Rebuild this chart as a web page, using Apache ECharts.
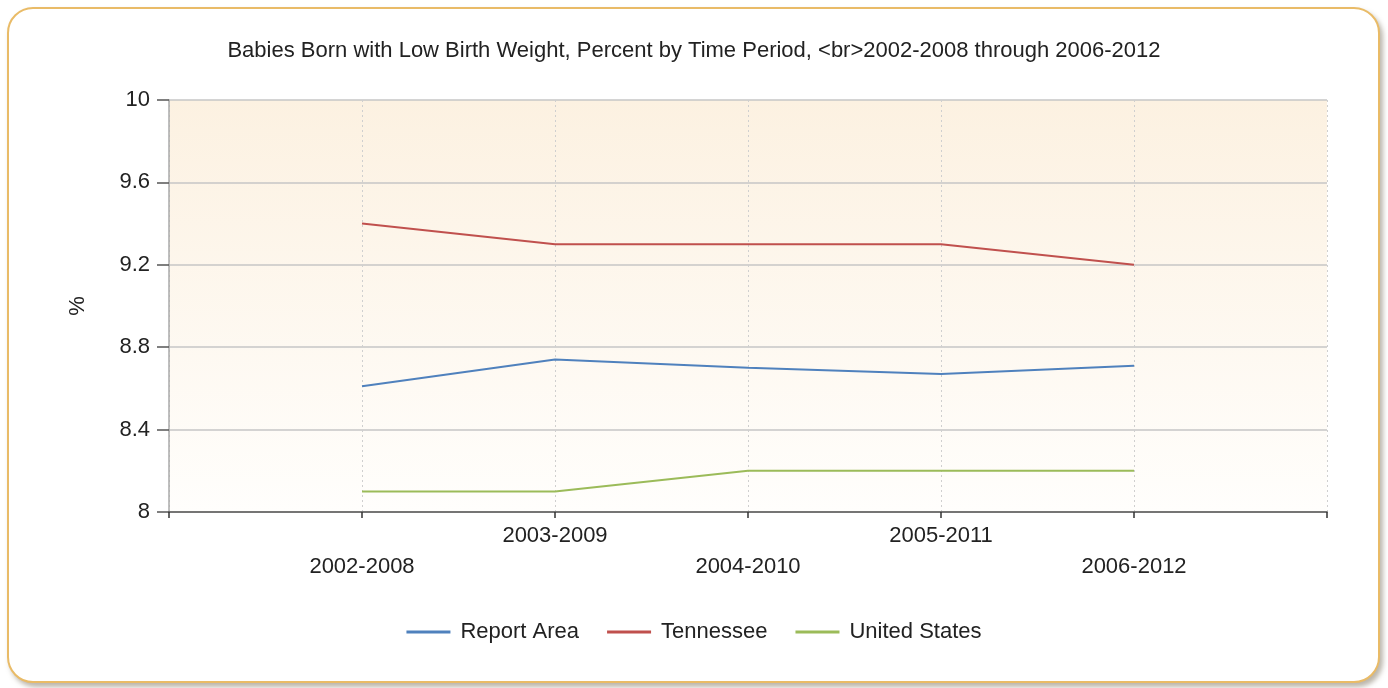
<!DOCTYPE html>
<html><head><meta charset="utf-8">
<script src="https://cdn.jsdelivr.net/npm/echarts@6/dist/echarts.min.js"></script>
<style>
html,body{margin:0;padding:0;background:#fff;}
#frame{position:absolute;left:7px;top:7px;width:1369px;height:672px;border:2.5px solid #e9bb67;border-radius:26px;box-shadow:3px 4px 5px rgba(120,110,90,0.5);background:#fff;}
#chart{position:absolute;left:0;top:0;width:1388px;height:688px;}
</style></head>
<body><div id="frame"></div><div id="chart"></div>
<script>
const titleText = 'Babies Born with Low Birth Weight, Percent by Time Period, <br>2002-2008 through 2006-2012';
const categories = ['2002-2008', '2003-2009', '2004-2010', '2005-2011', '2006-2012'];
const reportArea = [8.61, 8.74, 8.70, 8.67, 8.71];
const tennessee = [9.4, 9.3, 9.3, 9.3, 9.2];
const unitedStates = [8.1, 8.1, 8.2, 8.2, 8.2];
const yTicks = [8, 8.4, 8.8, 9.2, 9.6, 10];

const axisCats = [''].concat(categories, ['']);
const pad = arr => [null].concat(arr, [null]);
const font = '"Liberation Sans", Arial, sans-serif';

const chart = echarts.init(document.getElementById('chart'), null, {renderer: 'canvas'});
chart.setOption({
  backgroundColor: 'transparent',
  animation: false,
  title: {
    text: titleText, left: 'center', top: 35,
    textStyle: {fontFamily: font, fontSize: 22, fontWeight: 'normal', color: '#222'}
  },
  grid: {
    left: 169, right: 61, top: 100, bottom: 176, show: true, borderWidth: 0,
    backgroundColor: new echarts.graphic.LinearGradient(0, 0, 0, 1, [
      {offset: 0, color: '#fcf1e1'}, {offset: 1, color: '#fffefc'}
    ])
  },
  legend: {
    bottom: 40, left: 'center', itemWidth: 44, itemHeight: 3, itemGap: 28, icon: 'rect',
    textStyle: {fontFamily: font, fontSize: 22, color: '#222', padding: [0, 0, 0, 5]},
    data: ['Report Area', 'Tennessee', 'United States']
  },
  xAxis: {
    type: 'category', boundaryGap: false, data: axisCats,
    axisLine: {lineStyle: {color: '#555', width: 1.5}},
    axisTick: {show: true, length: 6, lineStyle: {color: '#333', width: 1.5}},
    axisLabel: {
      interval: 0, fontFamily: font, fontSize: 22, color: '#222', margin: 8, lineHeight: 31,
      formatter: (v, i) => (i % 2 === 1 ? '\n' + v : v)
    },
    splitLine: {show: true, lineStyle: {color: '#cfcfcf', type: [2, 3], width: 1}}
  },
  yAxis: {
    type: 'value', min: yTicks[0], max: yTicks[yTicks.length - 1], interval: 0.4,
    name: '%', nameLocation: 'middle', nameGap: 80, nameRotate: 90,
    nameTextStyle: {fontFamily: font, fontSize: 22, color: '#222'},
    axisLine: {show: true, lineStyle: {color: '#aaa', width: 1.5}},
    axisTick: {show: true, length: 12, lineStyle: {color: '#555', width: 1.5}},
    axisLabel: {fontFamily: font, fontSize: 22, color: '#222', margin: 19,
      formatter: v => String(Math.round(v * 10) / 10)},
    splitLine: {lineStyle: {color: '#c6c6c6', width: 1.5}}
  },
  series: [
    {name: 'Report Area', type: 'line', data: pad(reportArea), showSymbol: false, symbol: 'none',
     lineStyle: {color: '#4f81bd', width: 2}, itemStyle: {color: '#4f81bd'}},
    {name: 'Tennessee', type: 'line', data: pad(tennessee), showSymbol: false, symbol: 'none',
     lineStyle: {color: '#c0504d', width: 2}, itemStyle: {color: '#c0504d'}},
    {name: 'United States', type: 'line', data: pad(unitedStates), showSymbol: false, symbol: 'none',
     lineStyle: {color: '#9bbb59', width: 2}, itemStyle: {color: '#9bbb59'}}
  ]
});
</script></body></html>
